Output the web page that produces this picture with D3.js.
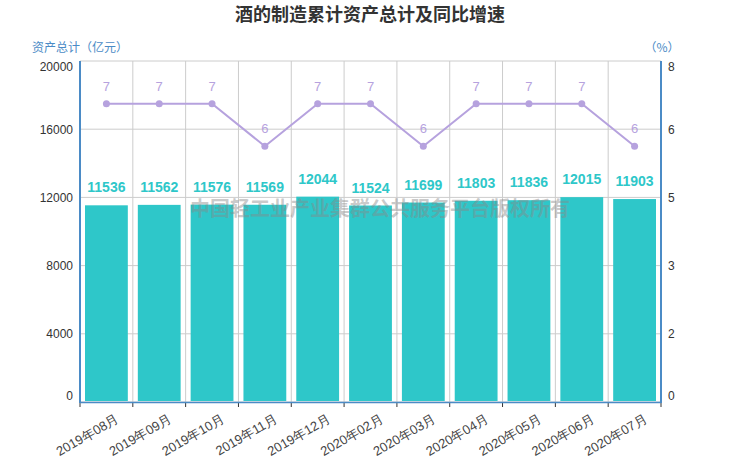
<!DOCTYPE html>
<html lang="zh">
  <head>
    <meta charset="utf-8">
    <title>酒的制造累计资产总计及同比增速</title>
    <script src="https://d3js.org/d3.v7.js"></script>
    <style>
      body { margin: 0; background: #fff; }
      text { font-family: "Noto Sans CJK SC", "Microsoft YaHei", sans-serif; }
    </style>
  </head>
  <body>
    <script>

  // chart size
  var w = 740;
  var h = 462;
  var margin = {top: 61, right: 79, bottom: 60, left: 80};
  var innerWidth = w - margin.left - margin.right;
  var innerHeight = h - margin.top - margin.bottom;

  // data
  var months = ["2019年08月", "2019年09月", "2019年10月", "2019年11月", "2019年12月", "2020年02月",
                "2020年03月", "2020年04月", "2020年05月", "2020年06月", "2020年07月"];
  var assets = [11536, 11562, 11576, 11569, 12044, 11524, 11699, 11803, 11836, 12015, 11903];
  var growth = [7, 7, 7, 6, 7, 7, 6, 7, 7, 7, 6];
  var leftTicks = [0, 4000, 8000, 12000, 16000, 20000];
  var rightTicks = [0, 1.6, 3.2, 4.8, 6.4, 8];

  var axisColor = "#4b8bc6";
  var barColor = "#2ec7c9";
  var lineColor = "#b6a2de";

  var svg = d3.select("body")
    .append("svg")
    .attr("width", w)
    .attr("height", h);

  // scales
  var xScale = d3.scaleBand()
    .domain(months)
    .range([0, innerWidth]);

  var yLeft = d3.scaleLinear()
    .domain([0, 20000])
    .range([innerHeight, 0]);

  var yRight = d3.scaleLinear()
    .domain([0, 8])
    .range([innerHeight, 0]);

  var g = svg.append("g")
    .attr("transform", `translate(${margin.left}, ${margin.top})`);

  // grid lines
  g.append("g")
    .selectAll("line.h")
    .data(leftTicks)
    .enter()
    .append("line")
    .attr("x1", 0)
    .attr("x2", innerWidth)
    .attr("y1", d => yLeft(d))
    .attr("y2", d => yLeft(d))
    .attr("stroke", "#ccc");

  g.append("g")
    .selectAll("line.v")
    .data(months.slice(1))
    .enter()
    .append("line")
    .attr("x1", d => xScale(d))
    .attr("x2", d => xScale(d))
    .attr("y1", 0)
    .attr("y2", innerHeight)
    .attr("stroke", "#ccc");

  // bars
  var barPad = 5;
  g.selectAll("rect.bar")
    .data(assets)
    .enter()
    .append("rect")
    .attr("class", "bar")
    .attr("x", (d, i) => xScale(months[i]) + barPad)
    .attr("y", d => yLeft(d))
    .attr("width", xScale.bandwidth() - barPad * 2)
    .attr("height", d => innerHeight - 1 - yLeft(d))
    .attr("fill", barColor);

  g.selectAll("text.barLabel")
    .data(assets)
    .enter()
    .append("text")
    .attr("x", (d, i) => xScale(months[i]) + xScale.bandwidth() / 2)
    .attr("y", d => yLeft(d) - 13)
    .attr("text-anchor", "middle")
    .attr("font-size", 14)
    .attr("font-weight", "bold")
    .attr("fill", barColor)
    .style("font-family", "Arial, 'Liberation Sans', sans-serif")
    .text(d => d);

  // watermark
  svg.append("text")
    .attr("x", 380)
    .attr("y", 216)
    .attr("text-anchor", "middle")
    .attr("font-size", 20)
    .attr("font-weight", "bold")
    .attr("fill", "#888")
    .attr("fill-opacity", 0.45)
    .text("中国轻工业产业集群公共服务平台版权所有");

  // line
  var line = d3.line()
    .x((d, i) => xScale(months[i]) + xScale.bandwidth() / 2)
    .y(d => yRight(d));

  g.append("path")
    .datum(growth)
    .attr("d", line)
    .attr("fill", "none")
    .attr("stroke", lineColor)
    .attr("stroke-width", 2);

  g.selectAll("circle")
    .data(growth)
    .enter()
    .append("circle")
    .attr("cx", (d, i) => xScale(months[i]) + xScale.bandwidth() / 2)
    .attr("cy", d => yRight(d))
    .attr("r", 3.5)
    .attr("fill", lineColor);

  g.selectAll("text.lineLabel")
    .data(growth)
    .enter()
    .append("text")
    .attr("x", (d, i) => xScale(months[i]) + xScale.bandwidth() / 2)
    .attr("y", d => yRight(d) - 13)
    .attr("text-anchor", "middle")
    .attr("font-size", 13)
    .attr("fill", lineColor)
    .style("font-family", "Arial, 'Liberation Sans', sans-serif")
    .text(d => d);

  // axes
  var xAxis = d3.axisBottom(xScale).tickSize(0).tickPadding(10);
  var xg = g.append("g")
    .attr("transform", `translate(0, ${innerHeight})`)
    .call(xAxis);
  xg.select(".domain").remove();
  xg.selectAll("text")
    .attr("font-size", 13)
    .attr("fill", "#444")
    .style("font-family", "Arial, 'Liberation Sans', sans-serif")
    .attr("text-anchor", "end")
    .attr("dy", "0.35em")
    .attr("transform", "translate(6, 7) rotate(-30)");

  // x ticks at category boundaries
  g.append("g")
    .selectAll("line")
    .data(months.concat([null]))
    .enter()
    .append("line")
    .attr("x1", d => d === null ? innerWidth : xScale(d))
    .attr("x2", d => d === null ? innerWidth : xScale(d))
    .attr("y1", innerHeight)
    .attr("y2", innerHeight + 5)
    .attr("stroke", "#333");

  var yAxisL = d3.axisLeft(yLeft).tickValues(leftTicks).tickSize(0).tickPadding(7)
    .tickFormat(d3.format("d"));
  var ylg = g.append("g").call(yAxisL);
  ylg.select(".domain").remove();
  ylg.selectAll("text")
    .attr("font-size", 12)
    .attr("fill", "#333")
    .style("font-family", "Arial, 'Liberation Sans', sans-serif")
    .attr("dy", (d, i) => i === 0 ? "-0.2em" : i === leftTicks.length - 1 ? "0.75em" : "0.32em");

  var yAxisR = d3.axisRight(yRight).tickValues(rightTicks).tickSize(0).tickPadding(7)
    .tickFormat(d3.format(".0f"));
  var yrg = g.append("g")
    .attr("transform", `translate(${innerWidth}, 0)`)
    .call(yAxisR);
  yrg.select(".domain").remove();
  yrg.selectAll("text")
    .attr("font-size", 12)
    .attr("fill", "#333")
    .style("font-family", "Arial, 'Liberation Sans', sans-serif")
    .attr("dy", (d, i) => i === 0 ? "-0.2em" : i === rightTicks.length - 1 ? "0.75em" : "0.32em");

  // axis lines
  g.append("line")
    .attr("x1", 0).attr("x2", 0)
    .attr("y1", 0).attr("y2", innerHeight + 1)
    .attr("stroke", axisColor).attr("stroke-width", 2);
  g.append("line")
    .attr("x1", innerWidth).attr("x2", innerWidth)
    .attr("y1", 0).attr("y2", innerHeight + 1)
    .attr("stroke", axisColor).attr("stroke-width", 2);
  g.append("line")
    .attr("x1", 0).attr("x2", innerWidth)
    .attr("y1", innerHeight + 0.5).attr("y2", innerHeight + 0.5)
    .attr("stroke", axisColor).attr("stroke-width", 1.5);

  // axis names
  svg.append("text")
    .attr("x", 32)
    .attr("y", 52)
    .attr("font-size", 12)
    .attr("fill", axisColor)
    .text("资产总计（亿元）");

  svg.append("text")
    .attr("x", 662)
    .attr("y", 52)
    .attr("text-anchor", "middle")
    .attr("font-size", 12)
    .attr("fill", axisColor)
    .text("（%）");

  // title
  svg.append("text")
    .attr("x", 370)
    .attr("y", 21)
    .attr("text-anchor", "middle")
    .attr("font-size", 18)
    .attr("font-weight", "bold")
    .attr("fill", "#333")
    .text("酒的制造累计资产总计及同比增速");

    </script>
  </body>
</html>
